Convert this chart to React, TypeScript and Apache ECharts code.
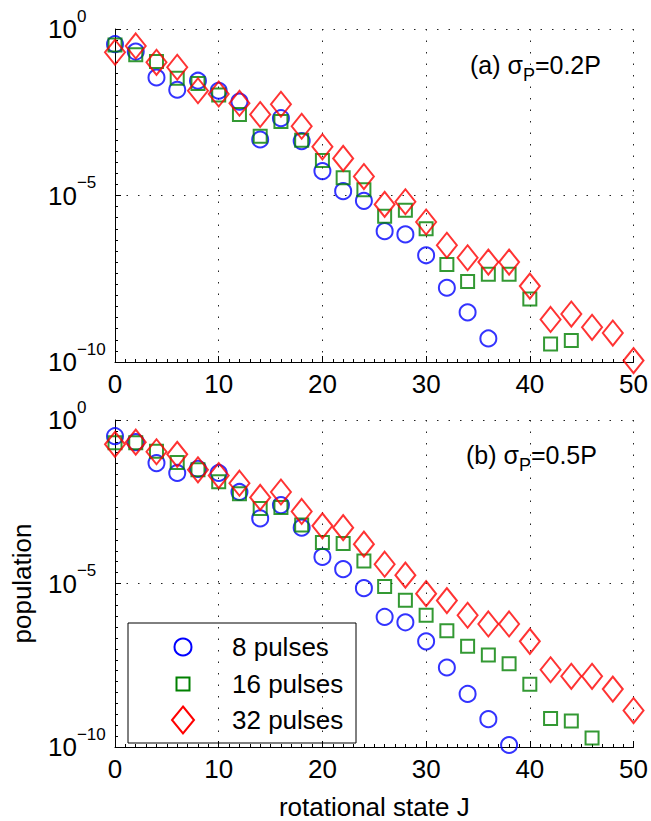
import React, { useEffect, useRef } from "react";
import * as echarts from "echarts";

// rotational state J (even values)
const J = [0, 2, 4, 6, 8, 10, 12, 14, 16, 18, 20, 22, 24, 26, 28, 30, 32, 34, 36, 38, 40, 42, 44, 46, 48, 50];

// panel (a) sigma_P = 0.2P
const popA8 = [0.35, 0.21, 3.5e-2, 1.5e-2, 2.8e-2, 1.4e-2, 6.6e-3, 4.8e-4, 2.1e-3, 4.3e-4, 5.4e-5, 1.35e-5, 6.9e-6, 8.5e-7, 6.8e-7, 1.6e-7, 1.7e-8, 3.1e-9, 5.1e-10];
const popA16 = [0.33, 0.17, 0.105, 3.3e-2, 2.3e-2, 1.05e-2, 2.7e-3, 6.0e-4, 1.66e-3, 4.6e-4, 1.12e-4, 3.4e-5, 1.5e-5, 2.4e-6, 3.6e-6, 1.0e-6, 8.5e-8, 2.6e-8, 4.3e-8, 4.3e-8, 7.8e-9, 3.5e-10, 4.4e-10];
const popA32 = [0.2, 0.31, 0.1, 7.1e-2, 1.4e-2, 1.12e-2, 5.9e-3, 2.7e-3, 5.5e-3, 1.2e-3, 2.9e-4, 1.3e-4, 3.7e-5, 5.4e-6, 6.5e-6, 1.6e-6, 3.2e-7, 1.35e-7, 1.0e-7, 1.0e-7, 1.9e-8, 1.9e-9, 2.75e-9, 1.1e-9, 7.4e-10, 1.1e-10];

// panel (b) sigma_P = 0.5P
const popB8 = [0.32, 0.21, 4.8e-2, 2.4e-2, 3.2e-2, 2.4e-2, 6.3e-3, 9.8e-4, 2.5e-3, 5.1e-4, 6.5e-5, 2.75e-5, 7.2e-6, 9.5e-7, 6.5e-7, 1.7e-7, 2.7e-8, 4.2e-9, 7.1e-10, 1.15e-10];
const popB16 = [0.2, 0.2, 0.11, 5.0e-2, 3.0e-2, 1.3e-2, 5.6e-3, 1.95e-3, 2.1e-3, 6.2e-4, 1.8e-4, 1.66e-4, 4.9e-5, 8.1e-6, 3.1e-6, 1.07e-6, 3.6e-7, 1.2e-7, 6.5e-8, 3.5e-8, 8.3e-9, 7.4e-10, 6.2e-10, 1.9e-10];
const popB32 = [0.18, 0.21, 0.107, 8.9e-2, 3.0e-2, 2.0e-2, 1.17e-2, 4.3e-3, 6.3e-3, 1.6e-3, 5.8e-4, 5.1e-4, 1.6e-4, 3.9e-5, 1.8e-5, 4.9e-6, 3.0e-6, 1.07e-6, 5.8e-7, 5.8e-7, 1.7e-7, 2.3e-8, 1.45e-8, 1.45e-8, 5.9e-9, 1.3e-9];

const seriesNames = ["8 pulses", "16 pulses", "32 pulses"];
const panelLabels = ["(a) σ", "(b) σ"];
const panelSub = "P";
const panelValues = ["=0.2P", "=0.5P"];
const yTickExponents = [-10, -5, 0];
const xLabel = "rotational state J";
const yLabel = "population";

const FONT = "'Liberation Sans', Arial, Helvetica, sans-serif";
const FS = 26;
const BLUE = "#0000ff";
const GREEN = "#008000";
const RED = "#ff0000";

function pairs(vals: number[]) {
  return vals.map((v, i) => [J[i], v]);
}

export default function App() {
  const ref = useRef<HTMLDivElement>(null);

  useEffect(() => {
    if (!ref.current) return;
    const chart = echarts.init(ref.current, undefined, { renderer: "svg" });

    const grids = [
      { left: 115, top: 29, width: 519, height: 333 },
      { left: 115, top: 420, width: 519, height: 333 },
    ];

    const xAxis = grids.map((_, gi) => ({
      type: "value",
      gridIndex: gi,
      min: 0,
      max: 50,
      interval: 10,
      name: gi === 1 ? xLabel : "",
      nameLocation: "middle",
      nameGap: 47,
      nameTextStyle: { fontSize: FS, color: "#000", fontFamily: FONT },
      axisLine: { show: true, onZero: false, lineStyle: { color: "#000", width: 1 } },
      axisTick: { show: true, inside: true, length: 6, lineStyle: { color: "#000" } },
      minorTick: { show: true, splitNumber: 10, length: 3, lineStyle: { color: "#000" } },
      axisLabel: { fontSize: FS, color: "#000", fontFamily: FONT, margin: 9 },
      splitLine: { show: true, lineStyle: { color: "#222", width: 1, type: [1.5, 10] } },
    }));

    const yAxis: any[] = [];
    grids.forEach((_, gi) => {
      // log axis carrying the data
      yAxis.push({
        type: "log",
        gridIndex: gi,
        logBase: 10,
        min: 1e-10,
        max: 1,
        axisLine: { show: false },
        axisTick: { show: false },
        axisLabel: { show: false },
        splitLine: { show: false },
      });
      // exponent axis drawn over the same span for ticks, labels and grid
      yAxis.push({
        type: "value",
        gridIndex: gi,
        position: "left",
        min: yTickExponents[0],
        max: yTickExponents[yTickExponents.length - 1],
        interval: 5,
        name: gi === 1 ? yLabel : "",
        nameLocation: "middle",
        nameGap: 80,
        nameTextStyle: { fontSize: FS, color: "#000", fontFamily: FONT },
        axisLine: { show: true, lineStyle: { color: "#000", width: 1 } },
        axisTick: { show: true, inside: true, length: 6, lineStyle: { color: "#000" } },
        minorTick: { show: true, splitNumber: 15, length: 3, lineStyle: { color: "#000" } },
        axisLabel: {
          align: "left",
          margin: 67,
          fontFamily: FONT,
          formatter: (v: number) => {
            if (!yTickExponents.includes(v)) return "";
            const e = v === 0 ? "0" : "\u2212" + Math.abs(v);
            return `{b|10}{s|${e}}`;
          },
          rich: {
            b: { fontSize: FS, color: "#000", fontFamily: FONT },
            s: { fontSize: 17, color: "#000", fontFamily: FONT, padding: [0, 0, 26, 0] },
          },
        },
        splitLine: { show: true, lineStyle: { color: "#222", width: 1, type: [1.5, 10] } },
      });
    });

    const mk = (gi: number, name: string, vals: number[], symbol: string, size: any, color: string) => ({
      type: "scatter",
      name,
      xAxisIndex: gi,
      yAxisIndex: gi * 2,
      data: pairs(vals),
      symbol,
      symbolSize: size,
      clip: false,
      itemStyle: { color: "rgba(0,0,0,0)", borderColor: color, borderWidth: 2 },
      emphasis: { disabled: true },
    });

    const series = [
      mk(0, seriesNames[0], popA8, "circle", 16, BLUE),
      mk(0, seriesNames[1], popA16, "rect", 13, GREEN),
      mk(0, seriesNames[2], popA32, "diamond", [20, 25], RED),
      mk(1, seriesNames[0], popB8, "circle", 16, BLUE),
      mk(1, seriesNames[1], popB16, "rect", 13, GREEN),
      mk(1, seriesNames[2], popB32, "diamond", [20, 25], RED),
    ];

    const panelText = (i: number, x: number, y: number) => ({
      type: "text",
      x,
      y,
      z: 10,
      style: {
        text: `{n|${panelLabels[i]}}{s|${panelSub}}{n|${panelValues[i]}}`,
        verticalAlign: "middle",
        align: "left",
        rich: {
          n: { fontSize: 25, fill: "#000", fontFamily: FONT },
          s: { fontSize: 18, fill: "#000", fontFamily: FONT, padding: [20, 0, 0, 0] },
        },
      },
    });

    const lx = 183;
    const ltx = 232;
    const ly = [647, 684, 720];
    const legendGraphic = {
      type: "group",
      z: 20,
      children: [
        { type: "rect", shape: { x: 128, y: 623, width: 228, height: 120 }, style: { fill: "#fff", stroke: "#000", lineWidth: 1 } },
        { type: "circle", shape: { cx: lx, cy: ly[0], r: 8.5 }, style: { fill: "none", stroke: BLUE, lineWidth: 2 } },
        { type: "rect", shape: { x: lx - 6.5, y: ly[1] - 6.5, width: 13, height: 13 }, style: { fill: "none", stroke: GREEN, lineWidth: 2 } },
        {
          type: "polygon",
          shape: { points: [[lx, ly[2] - 13.5], [lx + 11, ly[2]], [lx, ly[2] + 13.5], [lx - 11, ly[2]]] },
          style: { fill: "none", stroke: RED, lineWidth: 2 },
        },
        ...seriesNames.map((n, i) => ({
          type: "text",
          x: ltx,
          y: ly[i],
          style: { text: n, fontSize: FS, fill: "#000", fontFamily: FONT, verticalAlign: "middle", align: "left" },
        })),
      ],
    };

    chart.setOption({
      animation: false,
      backgroundColor: "#fff",
      textStyle: { fontFamily: FONT },
      grid: grids,
      xAxis,
      yAxis,
      series,
      graphic: [panelText(0, 470, 65), panelText(1, 466, 455), legendGraphic],
    });

    return () => chart.dispose();
  }, []);

  return (
    <div
      ref={ref}
      style={{ position: "fixed", left: 0, top: 0, width: 651, height: 821, background: "#fff" }}
    />
  );
}
